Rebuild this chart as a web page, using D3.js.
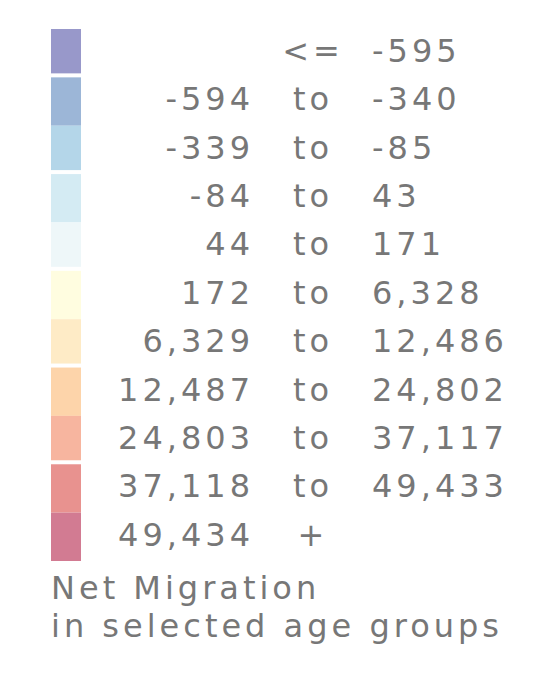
<!doctype html>
<html>
<head>
  <meta charset="utf-8">
  <title>Net Migration legend</title>
  <script src="https://cdnjs.cloudflare.com/ajax/libs/d3/7.8.5/d3.min.js"></script>
  <style>
    body { margin: 0; background: #fff; }
    .legend text {
      font-family: 'DejaVu Sans', sans-serif;
      font-size: 32px;
      letter-spacing: 4px;
      fill: #777;
    }
  </style>
</head>
<body>
  <div id="chart"></div>
  <script>
    // legend classes
    var lows = [null, -594, -339, -84, 44, 172, 6329, 12487, 24803, 37118, 49434];
    var highs = [-595, -340, -85, 43, 171, 6328, 12486, 24802, 37117, 49433, null];
    var colors = ["#9898ca", "#9cb6d7", "#b4d6e9", "#d4ebf3", "#eef7f9", "#fffde0",
                  "#feebc6", "#fdd4aa", "#f7b59f", "#e8928f", "#d27b92"];
    var titleLines = ["Net Migration", "in selected age groups"];

    var width = 548, height = 677;
    var fmt = d3.formatLocale({ decimal: ".", thousands: ",", grouping: [3], currency: ["", ""], minus: "-" }).format(",");

    var svg = d3.select("#chart").append("svg").attr("width", width).attr("height", height);
    var g = svg.append("g").attr("class", "legend");

    var y = d3.scaleBand().domain(d3.range(lows.length)).range([29, 561]);

    var rows = g.selectAll("g.row")
      .data(lows.map((d, i) => ({ lo: d, hi: highs[i], color: colors[i], i: i })))
      .join("g")
      .attr("class", "row")
      .attr("transform", d => `translate(0,${y(d.i)})`);

    // small white seams between every other pair of swatches, as in the original
    rows.append("rect")
      .attr("x", 51)
      .attr("width", 30)
      .attr("height", d => y.bandwidth() - (d.i % 2 === 0 && d.i < lows.length - 1 ? 4 : 0))
      .attr("fill", d => d.color);

    var base = 33;
    rows.append("text")
      .attr("x", 254)
      .attr("y", base)
      .attr("text-anchor", "end")
      .text(d => d.lo === null ? "" : fmt(d.lo));

    rows.append("text")
      .attr("x", 313)
      .attr("y", base)
      .attr("text-anchor", "middle")
      .text(d => d.lo === null ? "<=" : d.hi === null ? "+" : "to");

    rows.append("text")
      .attr("x", 372)
      .attr("y", base)
      .text(d => d.hi === null ? "" : fmt(d.hi));

    g.selectAll("text.title")
      .data(titleLines)
      .join("text")
      .attr("class", "title")
      .attr("x", 51)
      .attr("y", (d, i) => 599 + i * 38)
      .text(d => d);
  </script>
</body>
</html>
